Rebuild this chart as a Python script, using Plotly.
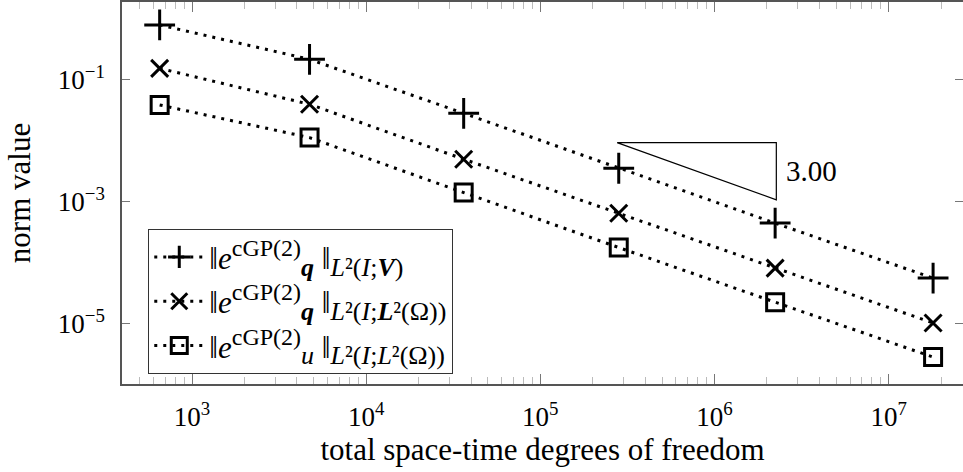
import math
import plotly.graph_objects as go

# ---- data ----
dofs = [652, 4730, 36300, 282000, 2.23e6, 1.80e7]
err_q_V = [0.80, 0.218, 0.0284, 3.56e-3, 4.48e-4, 5.61e-5]
err_q_L2 = [0.155, 0.0399, 5.01e-3, 6.52e-4, 8.18e-5, 1.03e-5]
err_u_L2 = [0.0389, 0.01133, 1.42e-3, 1.78e-4, 2.26e-5, 2.84e-6]

x_tick_vals = [1e3, 1e4, 1e5, 1e6, 1e7]
x_tick_text = ["10<sup>3</sup>", "10<sup>4</sup>", "10<sup>5</sup>", "10<sup>6</sup>", "10<sup>7</sup>"]
y_tick_vals = [1e-5, 1e-3, 1e-1]
y_tick_text = ["10<sup>−5</sup>", "10<sup>−3</sup>", "10<sup>−1</sup>"]


def sup(t):
    return f"<sup><span style='font-size:24px'>{t}</span></sup>"


def sub(t):
    return f"<sub><span style='font-size:26px'>{t}</span></sub>"


names = [
    "‖<i>e</i>" + sup("cGP(2)") + sub("<b><i>q</i></b>") + " ‖" + sub("<i>L</i>²(<i>I</i>;<b><i>V</i></b>)"),
    "‖<i>e</i>" + sup("cGP(2)") + sub("<b><i>q</i></b>") + " ‖" + sub("<i>L</i>²(<i>I</i>;<b><i>L</i></b>²(Ω))"),
    "‖<i>e</i>" + sup("cGP(2)") + sub("<i>u</i>") + " ‖" + sub("<i>L</i>²(<i>I</i>;<i>L</i>²(Ω))"),
]

# slope triangle (corners) and its label
tri_x = [2.76e5, 2.265e6]
tri_y = [9.37e-3, 1.079e-3]
slope_label = "3.00"

FONT = "Liberation Serif"

fig = go.Figure()

series = [
    (err_q_V, "cross-thin", 22),
    (err_q_L2, "x-thin", 17),
    (err_u_L2, "square-open", 17),
]
for i, ((vals, sym, sz), nm) in enumerate(zip(series, names)):
    fig.add_trace(go.Scatter(
        x=dofs, y=vals, name=nm, mode="lines+markers", legendgroup=f"g{i}",
        line=dict(color="black", width=3, dash="3px,6px"),
        marker=dict(symbol=sym, size=sz, color="black",
                    line=dict(color="black", width=3)),
    ))

# slope triangle
fig.add_trace(go.Scatter(
    x=[tri_x[0], tri_x[1], tri_x[1], tri_x[0]],
    y=[tri_y[0], tri_y[0], tri_y[1], tri_y[0]],
    mode="lines", line=dict(color="black", width=1.2),
    showlegend=False, hoverinfo="skip",
))
fig.add_annotation(
    x=math.log10(tri_x[1]),
    y=(math.log10(tri_y[0]) + math.log10(tri_y[1])) / 2,
    xref="x", yref="y", text=slope_label, showarrow=False,
    xanchor="left", yanchor="middle", xshift=8,
    font=dict(family=FONT, size=29, color="black"),
)

minor_vals = [m * 10 ** k for k in range(2, 8) for m in range(2, 10)]

axis_common = dict(
    type="log", showgrid=False, zeroline=False, automargin=False,
    showline=True, linecolor="#555", linewidth=1.5, mirror="ticks",
    ticks="inside", tickcolor="#777", tickwidth=1, tickmode="array",
    tickfont=dict(family=FONT, size=27, color="black"),
)

fig.update_xaxes(
    **axis_common,
    range=[2.598, 7.427], tickvals=x_tick_vals, ticktext=x_tick_text, ticklen=10,
    minor=dict(ticks="inside", ticklen=7, tickcolor="#bbb",
               tickmode="array", tickvals=minor_vals, showgrid=False),
    title=dict(text="total space-time degrees of freedom",
               font=dict(family=FONT, size=31, color="black"), standoff=6),
    ticklabelstandoff=8,
)
fig.update_yaxes(
    **axis_common,
    range=[-5.988, 0.279], tickvals=y_tick_vals, ticktext=y_tick_text, ticklen=8,
    title=dict(text="norm value",
               font=dict(family=FONT, size=31, color="black"), standoff=18),
    ticklabelstandoff=10,
)

fig.update_layout(
    width=963, height=472,
    margin=dict(l=122, r=0, t=2, b=88),
    paper_bgcolor="white", plot_bgcolor="white",
    font=dict(family=FONT, color="black"),
    legend=dict(
        x=0.031, y=0.026, xanchor="left", yanchor="bottom",
        bgcolor="white", bordercolor="#333", borderwidth=1.2,
        font=dict(family=FONT, size=31, color="black"),
        itemwidth=50, tracegroupgap=1, traceorder="grouped",
    ),
)

fig.write_html("out.html", config={"displayModeBar": False},
               post_script="document.body.style.margin='0';")
